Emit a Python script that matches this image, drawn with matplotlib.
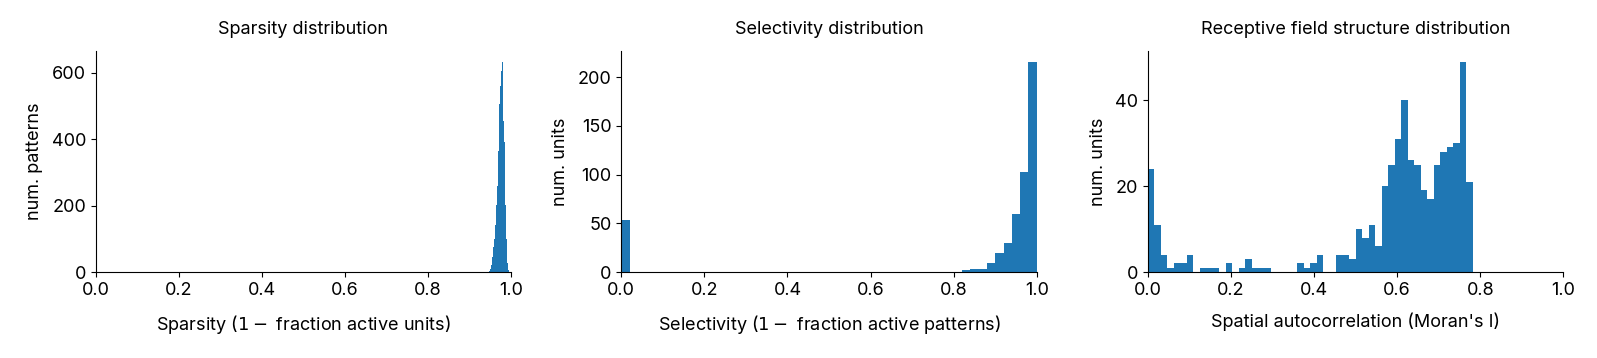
import numpy as np
import matplotlib
matplotlib.use("Agg")
import matplotlib.pyplot as plt

plt.rcParams['font.family'] = ['Inter', 'DejaVu Sans']
plt.rcParams['font.size'] = 13
plt.rcParams['axes.titlesize'] = 13
plt.rcParams['axes.labelsize'] = 13
plt.rcParams['xtick.labelsize'] = 13
plt.rcParams['ytick.labelsize'] = 13

# ---- data ----
# Panel 1: sparsity histogram (1 - fraction active units), per pattern
sparsity_range = (0.9465, 0.9945)
sparsity_counts = [3, 8, 20, 45, 75, 100, 140, 203, 260, 365,
                   505, 560, 605, 633, 455, 390, 203, 100, 27, 5]

# Panel 2: selectivity histogram (1 - fraction active patterns), per unit
selectivity_range = (0.0, 1.0)
selectivity_counts = [53] + [0] * 40 + [2, 3, 3, 9, 19, 30, 60, 103, 216]

# Panel 3: Moran's I histogram, per unit
morans_range = (0.0, 0.782)
morans_counts = [24, 11, 4, 1, 2, 2, 4, 0, 1, 1,
                 1, 0, 2, 0, 1, 3, 1, 1, 1, 0,
                 0, 0, 0, 2, 1, 2, 4, 0, 0, 4,
                 4, 3, 10, 8, 11, 6, 20, 25, 31, 40,
                 26, 25, 19, 17, 25, 28, 29, 30, 49, 21]

titles = ["Sparsity distribution", "Selectivity distribution",
          "Receptive field structure distribution"]
xlabels = ["Sparsity ($1-$ fraction active units)",
           "Selectivity ($1-$ fraction active patterns)",
           "Spatial autocorrelation (Moran's I)"]
ylabels = ["num. patterns", "num. units", "num. units"]
yticks = [[0, 200, 400, 600], [0, 50, 100, 150, 200], [0, 20, 40]]

panels = [(sparsity_range, sparsity_counts),
          (selectivity_range, selectivity_counts),
          (morans_range, morans_counts)]

fig = plt.figure(figsize=(15.97, 3.58), dpi=100)
lefts = [0.0599, 0.3890, 0.7188]
W, B, H = 0.2602, 0.2402, 0.6173

for i, ((lo, hi), counts) in enumerate(panels):
    ax = fig.add_axes([lefts[i], B, W, H])
    counts = np.asarray(counts, dtype=float)
    edges = np.linspace(lo, hi, len(counts) + 1)
    centers = 0.5 * (edges[:-1] + edges[1:])
    ax.hist(centers, bins=edges, weights=counts, color='#1f77b4')
    ax.set_xlim(0, 1.0)
    ax.set_yticks(yticks[i])
    ax.set_title(titles[i], pad=12)
    ax.set_xlabel(xlabels[i], labelpad=10)
    ax.set_ylabel(ylabels[i], labelpad=6)
    ax.spines['top'].set_visible(False)
    ax.spines['right'].set_visible(False)

fig.savefig("out.png", dpi=100)
